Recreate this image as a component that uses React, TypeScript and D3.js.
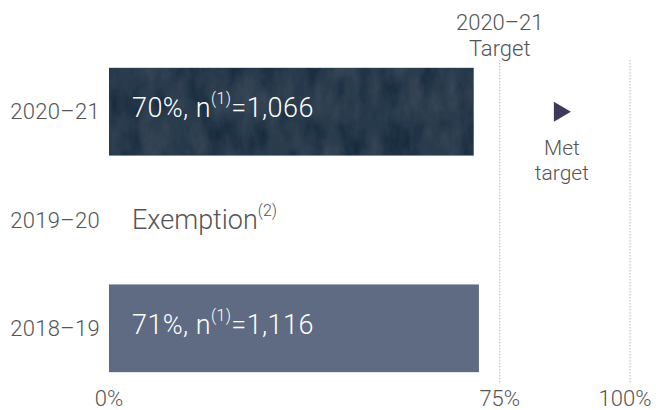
import { useMemo } from 'react';
import * as d3 from 'd3';

const categories = ['2020–21', '2019–20', '2018–19'];
const values: (number | null)[] = [70, null, 71];
const counts: (string | null)[] = ['1,066', null, '1,116'];
const ticks = [0, 75, 100];
const targetValue = 75;
const targetLabel = ['2020–21', 'Target'];
const statusLabel = ['Met', 'target'];
const exemptionText = 'Exemption';

const W = 656;
const H = 410;
const FONT = "Roboto, 'Noto Sans', sans-serif";
const GREY = '#555';

export default function App() {
  const x = useMemo(() => d3.scaleLinear().domain([0, 100]).range([109, 630]), []);
  const y = useMemo(
    () => d3.scaleBand<string>().domain(categories).range([57, 383]).paddingInner(0.19).paddingOuter(0.1),
    []
  );

  const bw = y.bandwidth();

  return (
    <svg width={W} height={H} style={{ position: 'absolute', left: 0, top: 0, background: '#fff' }}
      fontFamily={FONT} fontWeight={300}>
      <defs>
        <filter id="grain" x="0" y="0" width="100%" height="100%">
          <feTurbulence type="fractalNoise" baseFrequency="0.05 0.025" numOctaves="4" seed="7" result="n" />
          <feColorMatrix in="n" type="matrix"
            values="0 0 0 0 0.2  0 0 0 0 0.27  0 0 0 0 0.36  0 0 0 0.22 -0.04" result="c" />
          <feComposite in="c" in2="SourceGraphic" operator="in" result="t" />
          <feMerge>
            <feMergeNode in="SourceGraphic" />
            <feMergeNode in="t" />
          </feMerge>
        </filter>
      </defs>

      {/* target and 100% reference lines */}
      {ticks.filter(t => t > 0).map(t => (
        <line key={t} x1={x(t)} x2={x(t)} y1={60} y2={383}
          stroke="#bbb" strokeWidth={1} strokeDasharray="1.5,1.5" />
      ))}

      {/* bars */}
      {categories.map((c, i) => {
        const v = values[i];
        if (v == null) return null;
        return (
          <rect key={c} x={x(0)} y={y(c)!} width={x(v) - x(0)} height={bw}
            fill={i === 0 ? '#1e2d41' : '#5f6b82'}
            filter={i === 0 ? 'url(#grain)' : undefined} />
        );
      })}

      {/* category labels */}
      {categories.map(c => (
        <text key={c} x={100} y={y(c)! + bw / 2} dy="0.35em" textAnchor="end"
          fontSize={22} letterSpacing={0.3} fill={GREY}>{c}</text>
      ))}

      {/* bar value labels */}
      {categories.map((c, i) => {
        const v = values[i];
        const cy = y(c)! + bw / 2;
        if (v == null) {
          return (
            <text key={c} x={x(0) + 23} y={cy} dy="0.32em" fontSize={27} fill={GREY}>
              {exemptionText}
              <tspan fontSize={16} dy="-0.8em">(2)</tspan>
            </text>
          );
        }
        return (
          <text key={c} x={x(0) + 23} y={cy} dy="0.2em" fontSize={27} letterSpacing={0.4} fill="#fff">
            {`${v}%, n`}
            <tspan fontSize={16} dy="-0.8em">(1)</tspan>
            <tspan dy="0.475em">{`=${counts[i]}`}</tspan>
          </text>
        );
      })}

      {/* target header */}
      {targetLabel.map((s, i) => (
        <text key={s} x={x(targetValue)} y={30 + i * 26} textAnchor="middle" fontSize={22} fill={GREY}>{s}</text>
      ))}

      {/* status marker */}
      {(() => {
        const cx = x(87.5) - 4;
        const cy = y(categories[0])! + bw / 2;
        return (
          <g>
            <path d={`M${cx - 7},${cy - 10}L${cx + 10},${cy}L${cx - 7},${cy + 10}Z`} fill="#3c3a5b" />
            {statusLabel.map((s, i) => (
              <text key={s} x={cx + 1} y={155 + i * 25} textAnchor="middle" fontSize={21} fill={GREY}>{s}</text>
            ))}
          </g>
        );
      })()}

      {/* x axis tick labels */}
      {ticks.map(t => (
        <text key={t} x={Math.min(x(t), 625)} y={406} textAnchor="middle" fontSize={22} fill={GREY}>{`${t}%`}</text>
      ))}
    </svg>
  );
}
